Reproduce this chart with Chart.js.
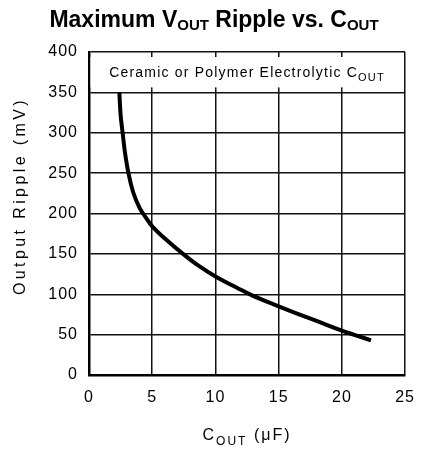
<!DOCTYPE html>
<html>
<head>
<meta charset="utf-8">
<script src="https://cdn.jsdelivr.net/npm/chart.js@4/dist/chart.umd.min.js"></script>
<style>
  html, body { margin: 0; padding: 0; background: #fff; }
  #wrap { width: 427px; height: 453px; }
</style>
</head>
<body>
<div id="wrap"><canvas id="c" width="427" height="453"></canvas></div>
<script>
// Data
const capacitance = [2.4, 2.5, 2.66, 2.85, 3.12, 3.5, 4.0, 4.5, 5, 6, 7.43, 8.6, 10, 11.7, 12.85, 15, 16.3, 18, 20, 22.3]; // µF
const ripple      = [350, 322, 300, 275, 250, 226, 207, 195, 184, 169, 150, 136, 122, 108, 99, 85, 77, 67, 55, 43]; // mV
const xTicks = [0, 5, 10, 15, 20, 25];
const yTicks = [0, 50, 100, 150, 200, 250, 300, 350, 400];

const titleParts = [["Maximum V", false], ["OUT", true], [" Ripple vs. C", false], ["OUT", true]];
const xTitleParts = [["C", false], ["OUT", true], [" (\u03BCF)", false]];
const boxParts = [["Ceramic or Polymer Electrolytic C", false], ["OUT", true]];
const yTitle = "Output Ripple (mV)";

const points = capacitance.map((x, i) => ({ x: x, y: ripple[i] }));

function drawParts(ctx, parts, cx, baseline, mainFont, subFont, subDrop, letterSpacing) {
  ctx.save();
  ctx.letterSpacing = letterSpacing || "0px";
  let total = 0;
  const widths = parts.map(([t, sub]) => {
    ctx.font = sub ? subFont : mainFont;
    const w = ctx.measureText(t).width;
    total += w;
    return w;
  });
  let x = cx - total / 2;
  ctx.textAlign = "left";
  ctx.textBaseline = "alphabetic";
  ctx.fillStyle = "#000";
  parts.forEach(([t, sub], i) => {
    ctx.font = sub ? subFont : mainFont;
    ctx.fillText(t, x, baseline + (sub ? subDrop : 0));
    x += widths[i];
  });
  ctx.restore();
}

const textPlugin = {
  id: "texts",
  beforeDraw(chart) {
    chart.ctx.letterSpacing = "1px";
  },
  beforeDatasetsDraw(chart) {
    const ctx = chart.ctx;
    const a = chart.chartArea;
    const ys = chart.scales.y;
    const yTop = ys.getPixelForValue(400);
    const yRow = ys.getPixelForValue(350);
    ctx.save();
    ctx.fillStyle = "#fff";
    ctx.fillRect(a.left + 1.5, yTop + 5, a.right - a.left - 3, (yRow - yTop) - 10);
    ctx.restore();
    drawParts(ctx, boxParts, (a.left + a.right) / 2, yTop + 25, "14px 'Liberation Sans'", "11px 'Liberation Sans'", 4, "1.2px");
  },
  afterDraw(chart) {
    const ctx = chart.ctx;
    const a = chart.chartArea;
    drawParts(ctx, titleParts, 214, 27, "bold 23px 'Liberation Sans'", "bold 15px 'Liberation Sans'", 3, "0px");
    drawParts(ctx, xTitleParts, (a.left + a.right) / 2, 440, "16px 'Liberation Sans'", "12px 'Liberation Sans'", 5, "2px");
    ctx.save();
    ctx.translate(21, 196);
    ctx.rotate(-Math.PI / 2);
    ctx.font = "16px 'Liberation Sans'";
    ctx.letterSpacing = "3.4px";
    ctx.fillStyle = "#000";
    ctx.textAlign = "center";
    ctx.textBaseline = "middle";
    ctx.fillText(yTitle, 0, 0);
    ctx.restore();
    ctx.letterSpacing = "0px";
  }
};

new Chart(document.getElementById("c"), {
  type: "scatter",
  data: {
    datasets: [{
      data: points,
      showLine: true,
      borderColor: "#000",
      borderWidth: 4,
      pointRadius: 0,
      tension: 0.4,
      fill: false
    }]
  },
  options: {
    responsive: false,
    animation: false,
    devicePixelRatio: 1,
    layout: { padding: { top: 52, right: 15, left: 0, bottom: 0 } },
    plugins: { legend: { display: false }, title: { display: false }, tooltip: { enabled: false } },
    scales: {
      x: {
        type: "linear",
        min: 0, max: 25,
        afterBuildTicks: (s) => { s.ticks = xTicks.map(v => ({ value: v })); },
        afterFit: (s) => { s.height = 78; },
        ticks: { color: "#000", font: { family: "'Liberation Sans'", size: 16 }, padding: 13, maxRotation: 0 },
        grid: { color: "#111", lineWidth: 1.5, drawTicks: false },
        border: { color: "#000", width: 2.5 }
      },
      y: {
        type: "linear",
        min: 0, max: 400,
        afterBuildTicks: (s) => { s.ticks = yTicks.map(v => ({ value: v })); },
        afterFit: (s) => { s.width = 89; },
        ticks: { color: "#000", font: { family: "'Liberation Sans'", size: 16 }, padding: 11 },
        grid: { color: "#111", lineWidth: 1.5, drawTicks: false },
        border: { color: "#000", width: 2.5 }
      }
    }
  },
  plugins: [textPlugin]
});
</script>
</body>
</html>
